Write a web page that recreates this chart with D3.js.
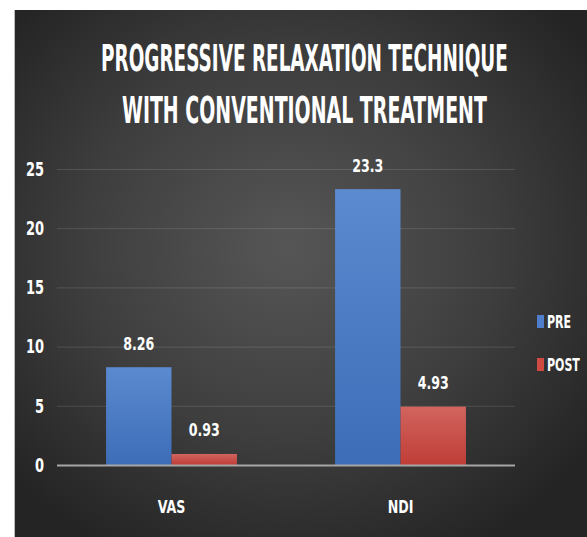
<!DOCTYPE html>
<html>
<head>
<meta charset="utf-8">
<script src="https://cdn.jsdelivr.net/npm/d3@7"></script>
<style>
  html, body { margin: 0; padding: 0; background: #ffffff; }
  svg { display: block; }
  text { font-family: "DejaVu Sans Condensed", "Liberation Sans Narrow", "Roboto", sans-serif; font-weight: bold; fill: #ffffff; }
</style>
</head>
<body>
<svg id="chart" width="587" height="537"></svg>
<script>
// Chart data
const categories = ["VAS", "NDI"];
const seriesNames = ["PRE", "POST"];
const preValues = [8.26, 23.3];
const postValues = [0.93, 4.93];
const yTicks = [0, 5, 10, 15, 20, 25];
const titleLines = ["PROGRESSIVE RELAXATION TECHNIQUE", "WITH CONVENTIONAL TREATMENT"];

const W = 587, H = 537;
const svg = d3.select("#chart");
const defs = svg.append("defs");

// Narrow text: draw at origin and squeeze horizontally around an anchor point
function narrowText(parent, str, x, y, size, sx, anchor) {
  const g = parent.append("g").attr("transform", `translate(${x},${y}) scale(${sx},1)`);
  g.append("text")
    .attr("x", 0).attr("y", 0)
    .attr("dy", "0.36em")
    .attr("font-size", size)
    .attr("text-anchor", anchor || "middle")
    .text(str);
  return g;
}

// Dark panel with a soft radial glow in the middle
const bg = defs.append("radialGradient").attr("id", "bgGrad")
  .attr("cx", "48%").attr("cy", "45%").attr("r", "65%");
bg.append("stop").attr("offset", "0%").attr("stop-color", "#565656");
bg.append("stop").attr("offset", "55%").attr("stop-color", "#3e3e3e");
bg.append("stop").attr("offset", "100%").attr("stop-color", "#242424");

const blueGrad = defs.append("linearGradient").attr("id", "blueGrad")
  .attr("x1", 0).attr("y1", 0).attr("x2", 0).attr("y2", 1);
blueGrad.append("stop").attr("offset", "0%").attr("stop-color", "#5b8ad0");
blueGrad.append("stop").attr("offset", "100%").attr("stop-color", "#3d6db7");

const redGrad = defs.append("linearGradient").attr("id", "redGrad")
  .attr("x1", 0).attr("y1", 0).attr("x2", 0).attr("y2", 1);
redGrad.append("stop").attr("offset", "0%").attr("stop-color", "#d2645e");
redGrad.append("stop").attr("offset", "100%").attr("stop-color", "#bf3d37");

const fills = { PRE: "url(#blueGrad)", POST: "url(#redGrad)" };
const legendColors = { PRE: "#4f7fcc", POST: "#d04a44" };

svg.append("rect").attr("x", 14).attr("y", 10).attr("width", W - 14).attr("height", H - 10)
  .attr("fill", "url(#bgGrad)");
svg.append("line").attr("x1", 14.5).attr("x2", 14.5).attr("y1", 10).attr("y2", H)
  .attr("stroke", "#bdbdbd").attr("stroke-width", 1);

// Title, each line squeezed to its width
const titleSpecs = [
  { cy: 58, x0: 101, x1: 508 },
  { cy: 110, x0: 122, x1: 487 }
];
titleLines.forEach((t, i) => {
  const s = titleSpecs[i];
  const g = svg.append("g");
  const txt = g.append("text")
    .attr("x", 0).attr("y", 0).attr("dy", "0.36em")
    .attr("font-size", 37)
    .attr("text-anchor", "start")
    .text(t);
  const natural = txt.node().getComputedTextLength();
  const sx = (s.x1 - s.x0) / natural;
  g.attr("transform", `translate(${s.x0},${s.cy}) scale(${sx},1)`);
});

// Plot area
const plot = { left: 57, right: 515, bottom: 465 };
const y = d3.scaleLinear().domain([0, 25]).range([plot.bottom, 169]);
const x0 = d3.scaleBand().domain(categories).range([plot.left, plot.right]).paddingInner(0).paddingOuter(0);
const x1 = d3.scaleBand().domain(seriesNames).range([0, x0.bandwidth()]).paddingInner(0).paddingOuter(0.75);

// Gridlines
svg.append("g")
  .selectAll("line")
  .data(yTicks.filter(d => d > 0))
  .join("line")
  .attr("x1", plot.left).attr("x2", plot.right)
  .attr("y1", d => y(d) + 0.5).attr("y2", d => y(d) + 0.5)
  .attr("stroke", "#ffffff").attr("stroke-opacity", 0.13).attr("stroke-width", 1);

// Y axis labels
const yLabels = svg.append("g");
yTicks.forEach(t => narrowText(yLabels, d3.format("d")(t), 44, y(t), 19, 0.76, "end"));

// Bars
const rows = categories.map((c, i) => ({ cat: c, vals: [
  { s: "PRE", v: preValues[i] }, { s: "POST", v: postValues[i] }
]}));

const groups = svg.append("g").selectAll("g")
  .data(rows).join("g")
  .attr("transform", d => `translate(${x0(d.cat)},0)`);

groups.selectAll("rect")
  .data(d => d.vals).join("rect")
  .attr("x", d => x1(d.s))
  .attr("width", x1.bandwidth())
  .attr("y", d => y(d.v))
  .attr("height", d => plot.bottom - y(d.v))
  .attr("fill", d => fills[d.s]);

groups.each(function (d) {
  const g = d3.select(this);
  d.vals.forEach(v => narrowText(g, String(v.v), x1(v.s) + x1.bandwidth() / 2, y(v.v) - 24, 18, 0.78, "middle"));
});

// Baseline
svg.append("line")
  .attr("x1", plot.left).attr("x2", plot.right)
  .attr("y1", plot.bottom + 0.5).attr("y2", plot.bottom + 0.5)
  .attr("stroke", "#a6a6a6").attr("stroke-width", 2);

// Category labels
const xLabels = svg.append("g");
categories.forEach(c => narrowText(xLabels, c, x0(c) + x0.bandwidth() / 2, 507, 18, 0.78, "middle"));

// Legend
const legend = svg.append("g").selectAll("g")
  .data(seriesNames).join("g")
  .attr("transform", (d, i) => `translate(537,${322 + i * 43})`);
legend.append("rect")
  .attr("x", 0).attr("y", -7).attr("width", 7).attr("height", 13)
  .attr("fill", d => legendColors[d]);
legend.each(function (d) {
  narrowText(d3.select(this), d, 10, 0, 17, 0.72, "start");
});
</script>
</body>
</html>
